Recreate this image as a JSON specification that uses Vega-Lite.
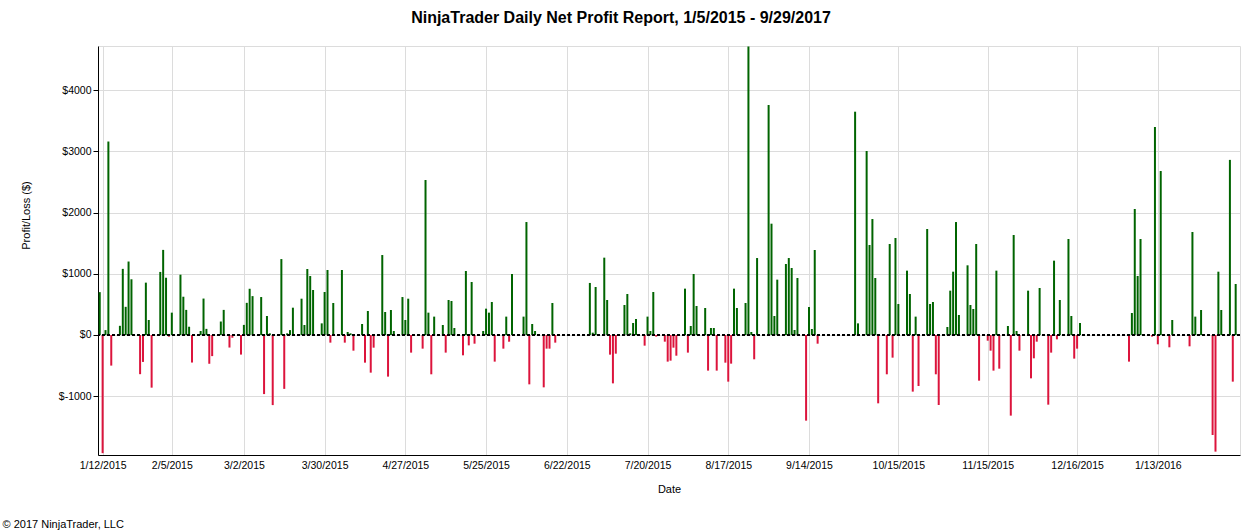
{
  "$schema": "https://vega.github.io/schema/vega-lite/v6.json",
  "width": 1142,
  "height": 409,
  "autosize": {"type": "none"},
  "padding": {"left": 98, "top": 46, "right": 20, "bottom": 77},
  "background": "white",
  "title": {
    "text": "NinjaTrader Daily Net Profit Report, 1/5/2015 - 9/29/2017",
    "font": "Liberation Sans",
    "fontSize": 16,
    "fontWeight": "bold",
    "color": "black",
    "anchor": "middle",
    "frame": "group",
    "dx": -48,
    "baseline": "alphabetic",
    "offset": 7
  },
  "config": {
    "view": {"stroke": "#DCDCDC"},
    "axis": {
      "gridColor": "#DCDCDC",
      "domainColor": "black",
      "tickColor": "black",
      "labelColor": "black",
      "titleColor": "black",
      "labelFont": "Liberation Sans",
      "titleFont": "Liberation Sans",
      "labelFontSize": 10.5,
      "titleFontSize": 11,
      "titleFontWeight": "normal"
    }
  },
  "data": {
    "values": [
      {"date": "2015-01-11", "pnl": 700},
      {"date": "2015-01-12", "pnl": -1930},
      {"date": "2015-01-13", "pnl": 80},
      {"date": "2015-01-14", "pnl": 3160},
      {"date": "2015-01-15", "pnl": -500},
      {"date": "2015-01-18", "pnl": 150},
      {"date": "2015-01-19", "pnl": 1080},
      {"date": "2015-01-20", "pnl": 460},
      {"date": "2015-01-21", "pnl": 1200},
      {"date": "2015-01-22", "pnl": 910},
      {"date": "2015-01-25", "pnl": -640},
      {"date": "2015-01-26", "pnl": -440},
      {"date": "2015-01-27", "pnl": 855},
      {"date": "2015-01-28", "pnl": 245},
      {"date": "2015-01-29", "pnl": -860},
      {"date": "2015-02-01", "pnl": 1030},
      {"date": "2015-02-02", "pnl": 1390},
      {"date": "2015-02-03", "pnl": 935},
      {"date": "2015-02-04", "pnl": -27},
      {"date": "2015-02-05", "pnl": 365},
      {"date": "2015-02-08", "pnl": 985},
      {"date": "2015-02-09", "pnl": 625},
      {"date": "2015-02-10", "pnl": 410},
      {"date": "2015-02-11", "pnl": 135},
      {"date": "2015-02-12", "pnl": -450},
      {"date": "2015-02-15", "pnl": 65},
      {"date": "2015-02-16", "pnl": 595},
      {"date": "2015-02-17", "pnl": 100},
      {"date": "2015-02-18", "pnl": -470},
      {"date": "2015-02-19", "pnl": -345},
      {"date": "2015-02-22", "pnl": 220},
      {"date": "2015-02-23", "pnl": 410},
      {"date": "2015-02-25", "pnl": -205},
      {"date": "2015-02-26", "pnl": -45},
      {"date": "2015-03-01", "pnl": -320},
      {"date": "2015-03-02", "pnl": 165},
      {"date": "2015-03-03", "pnl": 525},
      {"date": "2015-03-04", "pnl": 755},
      {"date": "2015-03-05", "pnl": 635},
      {"date": "2015-03-08", "pnl": 620},
      {"date": "2015-03-09", "pnl": -965},
      {"date": "2015-03-10", "pnl": 310},
      {"date": "2015-03-11", "pnl": 27},
      {"date": "2015-03-12", "pnl": -1145},
      {"date": "2015-03-15", "pnl": 1240},
      {"date": "2015-03-16", "pnl": -880},
      {"date": "2015-03-17", "pnl": 27},
      {"date": "2015-03-18", "pnl": 80},
      {"date": "2015-03-19", "pnl": 446},
      {"date": "2015-03-22", "pnl": 593},
      {"date": "2015-03-23", "pnl": 163},
      {"date": "2015-03-24", "pnl": 1078},
      {"date": "2015-03-25", "pnl": 963},
      {"date": "2015-03-26", "pnl": 735},
      {"date": "2015-03-29", "pnl": 190},
      {"date": "2015-03-30", "pnl": 702},
      {"date": "2015-03-31", "pnl": 1062},
      {"date": "2015-04-01", "pnl": -125},
      {"date": "2015-04-02", "pnl": 523},
      {"date": "2015-04-05", "pnl": 1062},
      {"date": "2015-04-06", "pnl": -125},
      {"date": "2015-04-07", "pnl": 49},
      {"date": "2015-04-08", "pnl": 27},
      {"date": "2015-04-09", "pnl": -256},
      {"date": "2015-04-12", "pnl": 180},
      {"date": "2015-04-13", "pnl": -452},
      {"date": "2015-04-14", "pnl": 392},
      {"date": "2015-04-15", "pnl": -615},
      {"date": "2015-04-16", "pnl": -207},
      {"date": "2015-04-19", "pnl": 1306},
      {"date": "2015-04-20", "pnl": 376},
      {"date": "2015-04-21", "pnl": -680},
      {"date": "2015-04-22", "pnl": 408},
      {"date": "2015-04-23", "pnl": 65},
      {"date": "2015-04-26", "pnl": 620},
      {"date": "2015-04-27", "pnl": 245},
      {"date": "2015-04-28", "pnl": 593},
      {"date": "2015-04-29", "pnl": -288},
      {"date": "2015-05-03", "pnl": -223},
      {"date": "2015-05-04", "pnl": 2531},
      {"date": "2015-05-05", "pnl": 365},
      {"date": "2015-05-06", "pnl": -642},
      {"date": "2015-05-07", "pnl": 300},
      {"date": "2015-05-10", "pnl": 163},
      {"date": "2015-05-11", "pnl": -288},
      {"date": "2015-05-12", "pnl": 572},
      {"date": "2015-05-13", "pnl": 555},
      {"date": "2015-05-14", "pnl": 114},
      {"date": "2015-05-17", "pnl": -332},
      {"date": "2015-05-18", "pnl": 1045},
      {"date": "2015-05-19", "pnl": -169},
      {"date": "2015-05-20", "pnl": 866},
      {"date": "2015-05-21", "pnl": -142},
      {"date": "2015-05-24", "pnl": 65},
      {"date": "2015-05-25", "pnl": 430},
      {"date": "2015-05-26", "pnl": 365},
      {"date": "2015-05-27", "pnl": 539},
      {"date": "2015-05-28", "pnl": -435},
      {"date": "2015-05-31", "pnl": -223},
      {"date": "2015-06-01", "pnl": 300},
      {"date": "2015-06-02", "pnl": -109},
      {"date": "2015-06-03", "pnl": 996},
      {"date": "2015-06-07", "pnl": 300},
      {"date": "2015-06-08", "pnl": 1845},
      {"date": "2015-06-09", "pnl": -806},
      {"date": "2015-06-10", "pnl": 180},
      {"date": "2015-06-11", "pnl": 65},
      {"date": "2015-06-14", "pnl": -855},
      {"date": "2015-06-15", "pnl": -223},
      {"date": "2015-06-16", "pnl": -223},
      {"date": "2015-06-17", "pnl": 523},
      {"date": "2015-06-18", "pnl": -125},
      {"date": "2015-06-30", "pnl": 850},
      {"date": "2015-07-01", "pnl": 38},
      {"date": "2015-07-02", "pnl": 784},
      {"date": "2015-07-05", "pnl": 1263},
      {"date": "2015-07-06", "pnl": 572},
      {"date": "2015-07-07", "pnl": -321},
      {"date": "2015-07-08", "pnl": -790},
      {"date": "2015-07-09", "pnl": -305},
      {"date": "2015-07-12", "pnl": 490},
      {"date": "2015-07-13", "pnl": 670},
      {"date": "2015-07-14", "pnl": 27},
      {"date": "2015-07-15", "pnl": 196},
      {"date": "2015-07-16", "pnl": 261},
      {"date": "2015-07-19", "pnl": -174},
      {"date": "2015-07-20", "pnl": 300},
      {"date": "2015-07-21", "pnl": 65},
      {"date": "2015-07-22", "pnl": 702},
      {"date": "2015-07-23", "pnl": -27},
      {"date": "2015-07-26", "pnl": -109},
      {"date": "2015-07-27", "pnl": -435},
      {"date": "2015-07-28", "pnl": -419},
      {"date": "2015-07-29", "pnl": -207},
      {"date": "2015-07-30", "pnl": -338},
      {"date": "2015-08-02", "pnl": 757},
      {"date": "2015-08-03", "pnl": -288},
      {"date": "2015-08-04", "pnl": 147},
      {"date": "2015-08-05", "pnl": 996},
      {"date": "2015-08-06", "pnl": 474},
      {"date": "2015-08-09", "pnl": 441},
      {"date": "2015-08-10", "pnl": -582},
      {"date": "2015-08-11", "pnl": 114},
      {"date": "2015-08-12", "pnl": 114},
      {"date": "2015-08-13", "pnl": -582},
      {"date": "2015-08-16", "pnl": -452},
      {"date": "2015-08-17", "pnl": -762},
      {"date": "2015-08-18", "pnl": -468},
      {"date": "2015-08-19", "pnl": 757},
      {"date": "2015-08-20", "pnl": 441},
      {"date": "2015-08-23", "pnl": 523},
      {"date": "2015-08-24", "pnl": 4710},
      {"date": "2015-08-25", "pnl": 49},
      {"date": "2015-08-26", "pnl": -397},
      {"date": "2015-08-27", "pnl": 1257},
      {"date": "2015-08-31", "pnl": 3756},
      {"date": "2015-09-01", "pnl": 1818},
      {"date": "2015-09-02", "pnl": 310},
      {"date": "2015-09-03", "pnl": 904},
      {"date": "2015-09-06", "pnl": 1160},
      {"date": "2015-09-07", "pnl": 1257},
      {"date": "2015-09-08", "pnl": 1094},
      {"date": "2015-09-09", "pnl": 82},
      {"date": "2015-09-10", "pnl": 931},
      {"date": "2015-09-13", "pnl": -1399},
      {"date": "2015-09-14", "pnl": 457},
      {"date": "2015-09-15", "pnl": 98},
      {"date": "2015-09-16", "pnl": 1388},
      {"date": "2015-09-17", "pnl": -142},
      {"date": "2015-09-30", "pnl": 3647},
      {"date": "2015-10-01", "pnl": 190},
      {"date": "2015-10-04", "pnl": 3005},
      {"date": "2015-10-05", "pnl": 1470},
      {"date": "2015-10-06", "pnl": 1894},
      {"date": "2015-10-07", "pnl": 931},
      {"date": "2015-10-08", "pnl": -1116},
      {"date": "2015-10-11", "pnl": -642},
      {"date": "2015-10-12", "pnl": 1486},
      {"date": "2015-10-13", "pnl": -370},
      {"date": "2015-10-14", "pnl": 1584},
      {"date": "2015-10-15", "pnl": 506},
      {"date": "2015-10-18", "pnl": 1051},
      {"date": "2015-10-19", "pnl": 670},
      {"date": "2015-10-20", "pnl": -925},
      {"date": "2015-10-21", "pnl": 300},
      {"date": "2015-10-22", "pnl": -833},
      {"date": "2015-10-25", "pnl": 1731},
      {"date": "2015-10-26", "pnl": 506},
      {"date": "2015-10-27", "pnl": 539},
      {"date": "2015-10-28", "pnl": -642},
      {"date": "2015-10-29", "pnl": -1143},
      {"date": "2015-11-01", "pnl": 131},
      {"date": "2015-11-02", "pnl": 724},
      {"date": "2015-11-03", "pnl": 1034},
      {"date": "2015-11-04", "pnl": 1845},
      {"date": "2015-11-05", "pnl": 327},
      {"date": "2015-11-08", "pnl": 1138},
      {"date": "2015-11-09", "pnl": 490},
      {"date": "2015-11-10", "pnl": 425},
      {"date": "2015-11-11", "pnl": 1486},
      {"date": "2015-11-12", "pnl": -746},
      {"date": "2015-11-15", "pnl": -93},
      {"date": "2015-11-16", "pnl": -256},
      {"date": "2015-11-17", "pnl": -582},
      {"date": "2015-11-18", "pnl": 1051},
      {"date": "2015-11-19", "pnl": -550},
      {"date": "2015-11-22", "pnl": 147},
      {"date": "2015-11-23", "pnl": -1317},
      {"date": "2015-11-24", "pnl": 1633},
      {"date": "2015-11-25", "pnl": 65},
      {"date": "2015-11-26", "pnl": -256},
      {"date": "2015-11-29", "pnl": 724},
      {"date": "2015-11-30", "pnl": -708},
      {"date": "2015-12-01", "pnl": -381},
      {"date": "2015-12-02", "pnl": -109},
      {"date": "2015-12-03", "pnl": 768},
      {"date": "2015-12-06", "pnl": -1138},
      {"date": "2015-12-07", "pnl": -288},
      {"date": "2015-12-08", "pnl": 1214},
      {"date": "2015-12-09", "pnl": -71},
      {"date": "2015-12-10", "pnl": 572},
      {"date": "2015-12-13", "pnl": 1568},
      {"date": "2015-12-14", "pnl": 310},
      {"date": "2015-12-15", "pnl": -386},
      {"date": "2015-12-16", "pnl": -223},
      {"date": "2015-12-17", "pnl": 196},
      {"date": "2016-01-03", "pnl": -435},
      {"date": "2016-01-04", "pnl": 359},
      {"date": "2016-01-05", "pnl": 2058},
      {"date": "2016-01-06", "pnl": 964},
      {"date": "2016-01-07", "pnl": 1568},
      {"date": "2016-01-11", "pnl": -27},
      {"date": "2016-01-12", "pnl": 3397},
      {"date": "2016-01-13", "pnl": -152},
      {"date": "2016-01-14", "pnl": 2678},
      {"date": "2016-01-17", "pnl": -201},
      {"date": "2016-01-18", "pnl": 245},
      {"date": "2016-01-24", "pnl": -185},
      {"date": "2016-01-25", "pnl": 1682},
      {"date": "2016-01-26", "pnl": 300},
      {"date": "2016-01-28", "pnl": 408},
      {"date": "2016-02-01", "pnl": -1633},
      {"date": "2016-02-02", "pnl": -1905},
      {"date": "2016-02-03", "pnl": 1034},
      {"date": "2016-02-04", "pnl": 408},
      {"date": "2016-02-07", "pnl": 2860},
      {"date": "2016-02-08", "pnl": -762},
      {"date": "2016-02-09", "pnl": 833}
    ]
  },
  "layer": [
    {
      "mark": {"type": "bar", "width": 2},
      "encoding": {
        "x": {
          "field": "date",
          "type": "temporal",
          "scale": {
            "type": "utc",
            "padding": 0,
            "domain": [
              {"year": 2015, "month": 1, "date": 10, "hours": 9, "minutes": 36, "utc": true},
              {"year": 2016, "month": 2, "date": 10, "hours": 12, "utc": true}
            ]
          },
          "axis": {
            "values": [
              {"year": 2015, "month": 1, "date": 12, "utc": true},
              {"year": 2015, "month": 2, "date": 5, "utc": true},
              {"year": 2015, "month": 3, "date": 2, "utc": true},
              {"year": 2015, "month": 3, "date": 30, "utc": true},
              {"year": 2015, "month": 4, "date": 27, "utc": true},
              {"year": 2015, "month": 5, "date": 25, "utc": true},
              {"year": 2015, "month": 6, "date": 22, "utc": true},
              {"year": 2015, "month": 7, "date": 20, "utc": true},
              {"year": 2015, "month": 8, "date": 17, "utc": true},
              {"year": 2015, "month": 9, "date": 14, "utc": true},
              {"year": 2015, "month": 10, "date": 15, "utc": true},
              {"year": 2015, "month": 11, "date": 15, "utc": true},
              {"year": 2015, "month": 12, "date": 16, "utc": true},
              {"year": 2016, "month": 1, "date": 13, "utc": true}
            ],
            "format": "%-m/%-d/%Y",
            "title": "Date",
            "ticks": false,
            "tickSize": 0,
            "labelPadding": 5,
            "labelFlush": false,
            "labelOverlap": false,
            "labelBound": false,
            "titleY": 37,
            "titleBaseline": "alphabetic"
          }
        },
        "y": {
          "field": "pnl",
          "type": "quantitative",
          "scale": {"domain": [-1960, 4720], "nice": false, "zero": false},
          "axis": {
            "values": [-1000, 0, 1000, 2000, 3000, 4000],
            "labelExpr": "'$' + datum.value",
            "title": "Profit/Loss ($)",
            "tickSize": 5,
            "labelPadding": 2,
            "titleX": -69,
            "titleY": 169,
            "titleBaseline": "alphabetic",
            "titleAlign": "center"
          }
        },
        "color": {
          "condition": {"test": "datum.pnl < 0", "value": "#DC143C"},
          "value": "#006400"
        }
      }
    },
    {
      "mark": {"type": "rule", "color": "black", "strokeWidth": 1, "strokeDash": [3, 2]},
      "encoding": {"y": {"datum": 0}}
    },
    {
      "mark": {"type": "point", "opacity": 0},
      "encoding": {
        "x": {
          "field": "date",
          "type": "temporal",
          "axis": {
            "orient": "bottom",
            "labels": false,
            "ticks": false,
            "domain": false,
            "grid": false,
            "title": "© 2017 NinjaTrader, LLC",
            "titleX": -96,
            "titleY": 72,
            "titleAlign": "left",
            "titleBaseline": "alphabetic",
            "titleFontSize": 11
          }
        }
      }
    }
  ],
  "resolve": {"axis": {"x": "independent"}}
}
